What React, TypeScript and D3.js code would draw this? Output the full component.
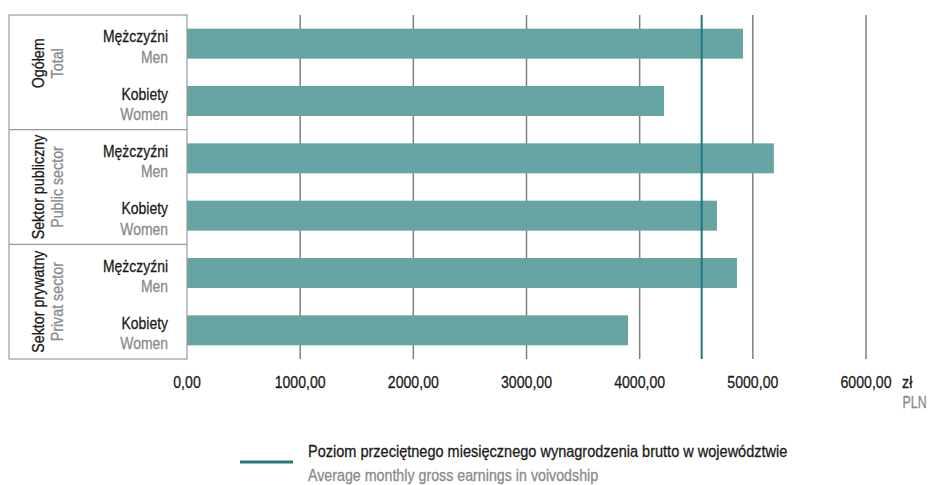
import React from "react";
import * as d3 from "d3";

const groupsPL = ["Ogółem", "Sektor publiczny", "Sektor prywatny"];
const groupsEN = ["Total", "Public sector", "Privat sector"];
const categoriesPL = ["Mężczyźni", "Kobiety"];
const categoriesEN = ["Men", "Women"];
const values = [4913, 4215, 5186, 4683, 4860, 3897];
const average = 4548;
const ticks = [0, 1000, 2000, 3000, 4000, 5000, 6000];
const unitPL = "zł";
const unitEN = "PLN";
const legendPL = "Poziom przeciętnego miesięcznego wynagrodzenia brutto w województwie";
const legendEN = "Average monthly gross earnings in voivodship";

const FONT = "'Liberation Sans', Arial, sans-serif";
const BAR = "#67a5a5";
const GRID = "#808080";
const AVG = "#20787c";
const GRAY = "#8a8a8a";
const BLACK = "#1a1a1a";
const SX = 0.84;

type TProps = {
  x: number;
  y: number;
  size?: number;
  fill: string;
  anchor?: "start" | "middle" | "end";
  rotate?: boolean;
  sx?: number;
  children: React.ReactNode;
};

// x, y give the baseline origin of the text
function T({ x, y, size = 17, fill, anchor = "start", rotate = false, sx = SX, children }: TProps) {
  const tr = `translate(${x},${y})${rotate ? " rotate(-90)" : ""} scale(${sx},1)`;
  return (
    <text
      transform={tr}
      textAnchor={anchor}
      fontSize={size}
      fill={fill}
      stroke={fill}
      strokeWidth={0.3}
    >
      {children}
    </text>
  );
}

export default function App() {
  const W = 928, H = 485;
  const top = 15, bottom = 359, boxLeft = 9, plotLeft = 187;
  const x = d3.scaleLinear().domain([0, 6000]).range([plotLeft, 866]);
  const rows = values.map((v, i) => ({
    i,
    v,
    g: Math.floor(i / 2),
    pl: categoriesPL[i % 2],
    en: categoriesEN[i % 2],
  }));
  const y = d3
    .scaleBand<number>()
    .domain(rows.map((r) => r.i))
    .range([top, bottom])
    .paddingInner(0.477)
    .paddingOuter(0.2385);
  const step = y.step();
  const groupTop = (g: number) => top + g * 2 * step;

  return (
    <svg
      width={W}
      height={H}
      style={{ position: "absolute", left: 0, top: 0, fontFamily: FONT }}
    >
      <rect width={W} height={H} fill="#fff" />
      {ticks.slice(1).map((t) => (
        <line key={t} x1={x(t)} x2={x(t)} y1={top} y2={bottom} stroke={GRID} strokeWidth={1.5} />
      ))}
      {rows.map((r) => (
        <rect key={r.i} x={x(0)} y={y(r.i)} width={x(r.v) - x(0)} height={y.bandwidth()} fill={BAR} />
      ))}
      <line x1={x(average)} x2={x(average)} y1={top} y2={bottom} stroke={AVG} strokeWidth={2} />
      <rect x={boxLeft} y={top} width={plotLeft - boxLeft} height={bottom - top} fill="#fff" stroke="#9a9a9a" strokeWidth={1.2} />
      {[1, 2].map((g) => (
        <line key={g} x1={boxLeft} x2={plotLeft} y1={groupTop(g)} y2={groupTop(g)} stroke="#9a9a9a" strokeWidth={1.2} />
      ))}
      {groupsPL.map((gp, g) => {
        const yc = groupTop(g) + step - (g === 0 ? 9 : 0);
        return (
          <g key={gp}>
            <T x={44} y={yc} fill={BLACK} anchor="middle" rotate>
              {gp}
            </T>
            <T x={63} y={yc} fill={GRAY} anchor="middle" rotate>
              {groupsEN[g]}
            </T>
          </g>
        );
      })}
      {rows.map((r) => {
        const yc = (y(r.i) as number) + y.bandwidth() / 2;
        return (
          <g key={"l" + r.i}>
            <T x={168} y={yc - 1.5} fill={BLACK} anchor="end" sx={0.82}>
              {r.pl}
            </T>
            <T x={168} y={yc + 19} fill={GRAY} anchor="end" sx={0.82}>
              {r.en}
            </T>
          </g>
        );
      })}
      {ticks.map((t) => (
        <T key={"t" + t} x={x(t)} y={388} fill={BLACK} anchor="middle" sx={0.83}>
          {d3.format(".2f")(t).replace(".", ",")}
        </T>
      ))}
      <T x={902} y={388} fill={BLACK}>{unitPL}</T>
      <T x={902.5} y={408} fill={GRAY} sx={0.73}>{unitEN}</T>
      <line x1={240} x2={293} y1={462} y2={462} stroke={AVG} strokeWidth={3} />
      <T x={308} y={457} fill={BLACK} sx={0.855}>{legendPL}</T>
      <T x={308} y={481} fill={GRAY} sx={0.838}>{legendEN}</T>
    </svg>
  );
}
